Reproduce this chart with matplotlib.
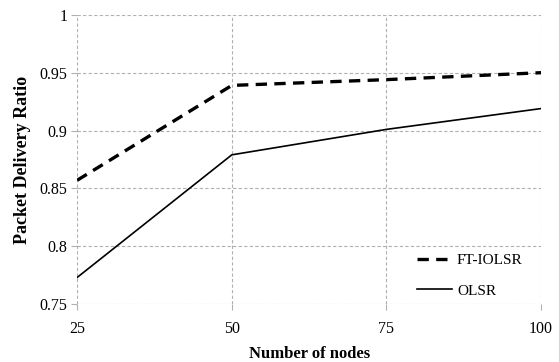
import matplotlib.pyplot as plt

plt.rcParams['font.family'] = ['Liberation Serif', 'DejaVu Serif']

# data
nodes = [25, 50, 75, 100]
ft_iolsr = [0.857, 0.939, 0.944, 0.950]
olsr = [0.773, 0.879, 0.901, 0.919]

fig = plt.figure(figsize=(5.59, 3.62), dpi=100)
ax = fig.add_axes([0.138, 0.160, 0.830, 0.799])

ax.plot(nodes, ft_iolsr, color='black', lw=2.4, dashes=(3.4, 2.2), label='FT-IOLSR')
ax.plot(nodes, olsr, color='black', lw=1.2, label='OLSR')

ax.set_xlim(25, 100)
ax.set_ylim(0.75, 1.0)
ax.set_xticks(nodes)
ax.set_yticks([0.75, 0.8, 0.85, 0.9, 0.95, 1.0])
ax.set_yticklabels(['0.75', '0.8', '0.85', '0.9', '0.95', '1'])

for s in ax.spines.values():
    s.set_visible(False)
ax.grid(True, color='#b0b0b0', linestyle=(0, (3, 2)), lw=0.8)
ax.tick_params(axis='both', labelsize=11.5, length=4, color='#b0b0b0')
ax.tick_params(axis='x', pad=8)
ax.tick_params(axis='y', pad=3)

ax.set_xlabel('Number of nodes', fontsize=12, fontweight='bold', labelpad=7)
ax.set_ylabel('Packet Delivery Ratio', fontsize=13, fontweight='bold', labelpad=6)

ax.legend(loc='lower right', frameon=False, fontsize=11, handlelength=2.3,
          labelspacing=1.1, handletextpad=0.3, bbox_to_anchor=(0.99, -0.025))

fig.savefig('out.png', dpi=100)
